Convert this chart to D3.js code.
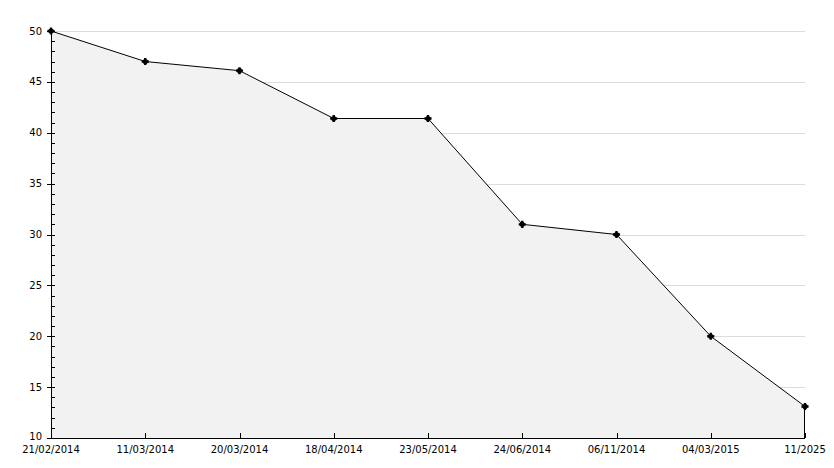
<!DOCTYPE html>
<html>
<head>
<meta charset="utf-8">
<script src="https://cdn.jsdelivr.net/npm/d3@7/dist/d3.min.js"></script>
<style>
  body { margin: 0; background: #fff; }
  svg text { font-family: "DejaVu Sans", Verdana, sans-serif; font-size: 10px; fill: #000; }
</style>
</head>
<body>
<div id="chart"></div>
<script>
// data
const dates = ["21/02/2014", "11/03/2014", "20/03/2014", "18/04/2014", "23/05/2014",
               "24/06/2014", "06/11/2014", "04/03/2015", "11/2025"];
const values = [50, 47, 46.1, 41.4, 41.4, 31, 30, 20, 13.1];
const yTicks = [10, 15, 20, 25, 30, 35, 40, 45, 50];

const W = 834, H = 468;
const margin = { top: 31, right: 29, bottom: 30, left: 51 };
const innerW = W - margin.left - margin.right;
const innerH = H - margin.top - margin.bottom;

const svg = d3.select("#chart").append("svg")
    .attr("width", W)
    .attr("height", H)
    .attr("shape-rendering", "crispEdges");

const g = svg.append("g")
    .attr("transform", `translate(${margin.left},${margin.top})`);

const x = d3.scalePoint().domain(dates).range([0, innerW]);
const y = d3.scaleLinear().domain([10, 50]).range([innerH, 0]);

const pts = dates.map((d, i) => ({ d, v: values[i] }));

// grid lines
g.selectAll(".grid")
    .data(yTicks.filter(t => t > 10))
    .enter().append("line")
    .attr("x1", 0).attr("x2", innerW)
    .attr("y1", d => Math.round(y(d)) + 0.5).attr("y2", d => Math.round(y(d)) + 0.5)
    .attr("stroke", "#dcdcdc");

// area under the line
g.append("path")
    .datum(pts)
    .attr("d", d3.area().x(p => x(p.d)).y0(innerH).y1(p => y(p.v)))
    .attr("fill", "#f2f2f2")
    .attr("shape-rendering", "auto");

// line
g.append("path")
    .datum(pts)
    .attr("d", d3.line().x(p => x(p.d)).y(p => y(p.v)))
    .attr("fill", "none")
    .attr("stroke", "#000")
    .attr("stroke-width", 1)
    .attr("shape-rendering", "auto");

// right edge of the area
const last = pts[pts.length - 1];
g.append("line")
    .attr("x1", x(last.d) - 0.5).attr("x2", x(last.d) - 0.5)
    .attr("y1", y(last.v)).attr("y2", innerH)
    .attr("stroke", "#000");

// y axis: major ticks cross the axis, minor ticks inside
g.append("line")
    .attr("x1", 0.5).attr("x2", 0.5)
    .attr("y1", 0).attr("y2", innerH)
    .attr("stroke", "#000");

const minor = d3.range(10, 51, 1).filter(v => v % 5 !== 0);
g.selectAll(".minor")
    .data(minor)
    .enter().append("line")
    .attr("x1", 0).attr("x2", 4)
    .attr("y1", d => Math.round(y(d)) + 0.5).attr("y2", d => Math.round(y(d)) + 0.5)
    .attr("stroke", "#000");

g.selectAll(".major")
    .data(yTicks)
    .enter().append("line")
    .attr("x1", -4).attr("x2", 4)
    .attr("y1", d => Math.round(y(d)) + 0.5).attr("y2", d => Math.round(y(d)) + 0.5)
    .attr("stroke", "#000");

g.selectAll(".ylab")
    .data(yTicks)
    .enter().append("text")
    .attr("x", -9)
    .attr("y", d => y(d))
    .attr("dy", d => d === 10 ? "0.2em" : "0.35em")
    .attr("text-anchor", "end")
    .text(d => d);

// x axis
g.append("line")
    .attr("x1", 0).attr("x2", innerW)
    .attr("y1", innerH + 0.5).attr("y2", innerH + 0.5)
    .attr("stroke", "#000");

g.selectAll(".xtick")
    .data(dates)
    .enter().append("line")
    .attr("x1", d => Math.round(x(d)) + 0.5).attr("x2", d => Math.round(x(d)) + 0.5)
    .attr("y1", innerH - 5).attr("y2", innerH)
    .attr("stroke", "#000");

g.selectAll(".xlab")
    .data(dates)
    .enter().append("text")
    .attr("x", d => x(d))
    .attr("y", innerH + 11)
    .attr("dy", "0.35em")
    .attr("text-anchor", "middle")
    .text(d => d);

// point markers
const mk = g.selectAll(".mk")
    .data(pts)
    .enter().append("g")
    .attr("transform", p => `translate(${x(p.d)},${y(p.v)})`)
    .attr("shape-rendering", "auto");

mk.append("path")
    .attr("d", d3.symbol().type(d3.symbolCross).size(28))
    .attr("fill", "#000");
mk.append("circle")
    .attr("r", 2.6)
    .attr("fill", "#000");
</script>
</body>
</html>
